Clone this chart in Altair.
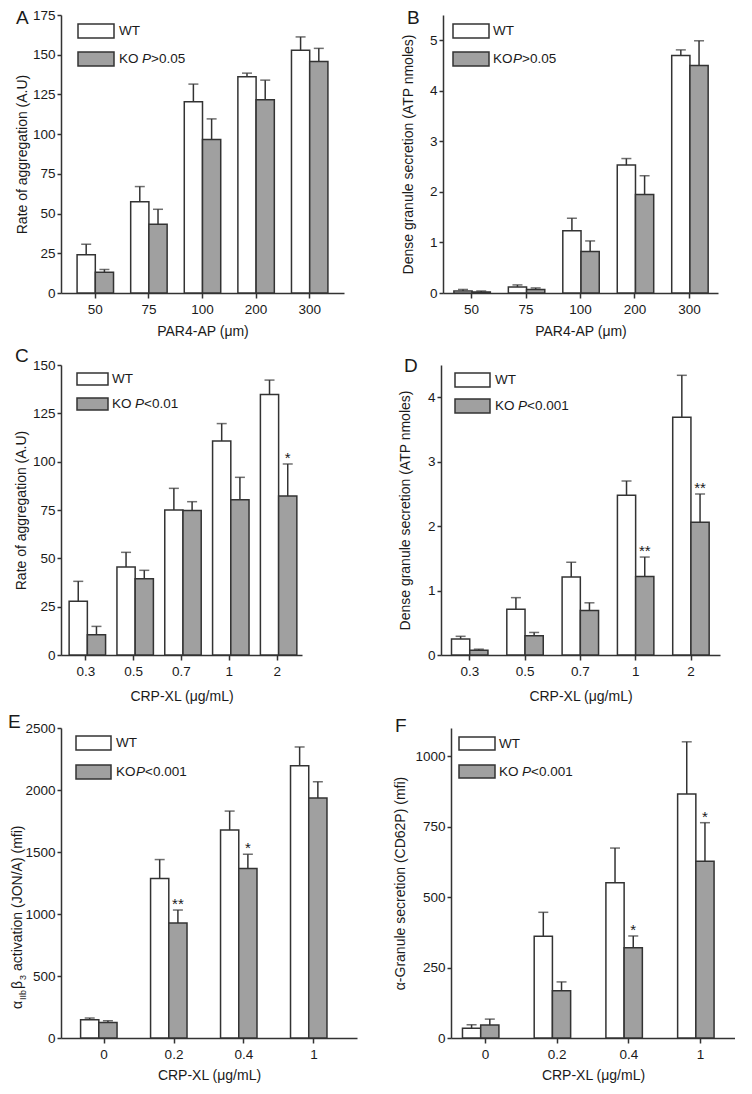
import altair as alt
import pandas as pd

FONT = "Liberation Sans"
INK = "#333333"
GRAY = "#a0a0a0"
TXT = "#1a1a1a"

# ---------------- data ----------------
# Panel A: rate of aggregation vs PAR4-AP
a_cats = ["50", "75", "100", "200", "300"]
a_wt = [24.0, 57.5, 120.4, 136.1, 152.8]
a_wt_err = [6.7, 9.5, 11.1, 2.3, 8.4]
a_ko = [13.0, 43.3, 96.6, 121.7, 145.7]
a_ko_err = [1.8, 9.4, 13.0, 12.3, 8.3]
a_ko_star = ["", "", "", "", ""]
a_yticks = [0, 25, 50, 75, 100, 125, 150, 175]

# Panel B: dense granule secretion vs PAR4-AP
b_cats = ["50", "75", "100", "200", "300"]
b_wt = [0.04, 0.12, 1.23, 2.53, 4.70]
b_wt_err = [0.03, 0.04, 0.25, 0.13, 0.11]
b_ko = [0.02, 0.07, 0.82, 1.95, 4.50]
b_ko_err = [0.02, 0.03, 0.21, 0.37, 0.49]
b_ko_star = ["", "", "", "", ""]
b_yticks = [0, 1, 2, 3, 4, 5]

# Panel C: rate of aggregation vs CRP-XL
c_cats = ["0.3", "0.5", "0.7", "1", "2"]
c_wt = [27.8, 45.5, 75.0, 110.7, 134.7]
c_wt_err = [10.3, 7.6, 11.2, 9.0, 7.5]
c_ko = [10.5, 39.5, 74.7, 80.3, 82.2]
c_ko_err = [4.3, 4.3, 4.6, 11.6, 16.6]
c_ko_star = ["", "", "", "", "*"]
c_yticks = [0, 25, 50, 75, 100, 125, 150]

# Panel D: dense granule secretion vs CRP-XL
d_cats = ["0.3", "0.5", "0.7", "1", "2"]
d_wt = [0.25, 0.71, 1.21, 2.48, 3.69]
d_wt_err = [0.04, 0.18, 0.23, 0.22, 0.65]
d_ko = [0.075, 0.30, 0.69, 1.22, 2.06]
d_ko_err = [0.015, 0.05, 0.12, 0.30, 0.44]
d_ko_star = ["", "", "", "**", "**"]
d_yticks = [0, 1, 2, 3, 4]

# Panel E: integrin activation vs CRP-XL
e_cats = ["0", "0.2", "0.4", "1"]
e_wt = [147, 1286, 1677, 2195]
e_wt_err = [14, 153, 153, 152]
e_ko = [126, 927, 1367, 1935]
e_ko_err = [13, 105, 115, 131]
e_ko_star = ["", "**", "*", ""]
e_yticks = [0, 500, 1000, 1500, 2000, 2500]

# Panel F: alpha-granule secretion vs CRP-XL
f_cats = ["0", "0.2", "0.4", "1"]
f_wt = [35, 361, 551, 866]
f_wt_err = [12, 85, 123, 185]
f_ko = [46, 168, 320, 627]
f_ko_err = [21, 31, 42, 137]
f_ko_star = ["", "", "*", "*"]
f_yticks = [0, 250, 500, 750, 1000]

groups = ["WT", "KO"]


def one(text, x, y, size=13.5, style="normal", align="left", baseline="middle",
        angle=0, dx=0, dy=0):
    return alt.Chart(pd.DataFrame({"k": [0]})).mark_text(
        text=text, font=FONT, fontSize=size, fontStyle=style, align=align,
        baseline=baseline, angle=angle, dx=dx, dy=dy, color=TXT
    ).encode(x=alt.value(x), y=alt.value(y))


def box(x1, x2, y1, y2, fill):
    return alt.Chart(pd.DataFrame({"k": [0]})).mark_rect(
        fill=fill, stroke=INK, strokeWidth=1.5
    ).encode(x=alt.value(x1), x2=alt.value(x2), y=alt.value(y1), y2=alt.value(y2))


def panel(letter, cats, wt, wt_err, ko, ko_err, ko_star, ymax, yticks, ytitle,
          xtitle, w, h, pin, pout, leg, kop, lpos, title_x=-32, xtitle_pad=9):
    n = len(cats)
    df = pd.DataFrame({
        "cat": cats * 2,
        "group": ["WT"] * n + ["KO"] * n,
        "value": wt + ko,
        "top": [v + e for v, e in zip(wt + ko, wt_err + ko_err)],
        "star": [""] * n + ko_star,
    })
    x = alt.X("cat:N", sort=cats,
              scale=alt.Scale(paddingInner=pin, paddingOuter=pout),
              axis=alt.Axis(title=xtitle, labelAngle=0, tickSize=5, labelPadding=4,
                            titlePadding=xtitle_pad))
    xo = alt.XOffset("group:N", sort=groups,
                     scale=alt.Scale(paddingInner=0, paddingOuter=0))
    common = dict(values=yticks, tickCount=len(yticks) + 2, tickSize=4, labelPadding=2,
                  labelOverlap=False, format="d")
    if ytitle:
        yaxis = alt.Axis(title=ytitle, titleX=title_x, **common)
    else:
        yaxis = alt.Axis(title=None, **common)
    y = alt.Y("value:Q", scale=alt.Scale(domain=[0, ymax], nice=False, zero=True),
              axis=yaxis)
    base = alt.Chart(df)
    bars = base.mark_bar(stroke=INK, strokeWidth=1.5).encode(
        x=x, xOffset=xo, y=y,
        fill=alt.Fill("group:N", scale=alt.Scale(domain=groups, range=["white", GRAY]),
                      legend=None))
    err = base.mark_rule(color=INK, strokeWidth=1.5).encode(
        x=x, xOffset=xo, y="value:Q", y2="top:Q")
    cap = base.mark_tick(color=INK, thickness=1.5, size=10, orient="horizontal").encode(
        x=x, xOffset=xo, y="top:Q")
    stars = base.transform_filter("datum.star != ''").mark_text(
        font=FONT, fontSize=15, baseline="alphabetic", dy=-1, color=TXT).encode(
        x=x, xOffset=xo, y="top:Q", text="star:N")

    bx1, bx2, wy, ky, bh, tx = leg
    layers = [bars, err, cap, stars,
              box(bx1, bx2, wy, wy + bh, "white"),
              box(bx1, bx2, ky, ky + bh, GRAY),
              one("WT", tx, wy + bh / 2),
              one("KO", tx, ky + bh / 2),
              one("P", tx + kop[0], ky + bh / 2, style="italic"),
              one(kop[2], tx + kop[1], ky + bh / 2),
              one(letter, lpos[0], lpos[1], size=19, baseline="top")]
    return alt.layer(*layers).properties(width=w, height=h)


par_x = "PAR4-AP (\u03bcm)"
crp_x = "CRP-XL (\u03bcg/mL)"

A = panel("A", a_cats, a_wt, a_wt_err, a_ko, a_ko_err, a_ko_star, 175, a_yticks,
          "Rate of aggregation (A.U)", par_x, 283, 278, 0.32, 0.3,
          (17, 53, 9, 37, 14, 58), (23, 32, ">0.05"), (-45, -6), title_x=-32)
B = panel("B", b_cats, b_wt, b_wt_err, b_ko, b_ko_err, b_ko_star, 5.5, b_yticks,
          "Dense granule secretion (ATP nmoles)", par_x, 275, 278, 0.35, 0.2,
          (10, 46, 9, 37, 14, 50), (20, 29, ">0.05"), (-36, -6), title_x=-28)
C = panel("C", c_cats, c_wt, c_wt_err, c_ko, c_ko_err, c_ko_star, 150, c_yticks,
          "Rate of aggregation (A.U)", crp_x, 241, 290, 0.30, 0.17,
          (16, 47, 8, 33, 12, 51), (23, 32, "<0.01"), (-46, -18), title_x=-33,
          xtitle_pad=12)
D = panel("D", d_cats, d_wt, d_wt_err, d_ko, d_ko_err, d_ko_star, 4.5, d_yticks,
          "Dense granule secretion (ATP nmoles)", crp_x, 279, 290, 0.335, 0.19,
          (14, 49, 8, 34, 14, 54), (23, 32, "<0.001"), (-37, -8), title_x=-29,
          xtitle_pad=12)

# Panel E: y title with subscripts built from text pieces (rotated)
e_title_x, e_title_y = -43, 281
E_core = panel("E", e_cats, e_wt, e_wt_err, e_ko, e_ko_err, e_ko_star, 2500, e_yticks,
               None, crp_x, 296, 310, 0.33, 0.28,
               (15, 50, 8, 37, 14, 55), (20, 29, "<0.001"), (-53, -15.5), xtitle_pad=8)
e_title = [
    one("\u03b1", e_title_x, e_title_y, size=14, angle=270, dx=0),
    one("IIb", e_title_x, e_title_y, size=9, angle=270, dx=9, dy=5),
    one("\u03b2", e_title_x, e_title_y, size=14, angle=270, dx=20),
    one("3", e_title_x, e_title_y, size=9, angle=270, dx=29, dy=5),
    one("activation (JON/A) (mfi)", e_title_x, e_title_y, size=14, angle=270, dx=38),
]
E = alt.layer(E_core, *e_title)

F = panel("F", f_cats, f_wt, f_wt_err, f_ko, f_ko_err, f_ko_star, 1100, f_yticks,
          "\u03b1-Granule secretion (CD62P) (mfi)", crp_x, 284, 310, 0.36, 0.16,
          (8, 44, 9, 37, 13, 48), (23, 32, "<0.001"), (-56, -11), title_x=-44,
          xtitle_pad=8)

chart = alt.vconcat(
    alt.hconcat(A, B, spacing=56),
    alt.hconcat(C, D, spacing=96),
    alt.hconcat(E, F, spacing=36),
    spacing=8,
).properties(padding=0, background="white").configure_axis(
    domainColor=INK, domainWidth=1.5, tickColor=INK, tickWidth=1.5,
    labelFont=FONT, labelFontSize=13.5, labelColor=TXT,
    titleFont=FONT, titleFontSize=14, titleFontWeight="normal", titleColor=TXT,
    grid=False,
).configure_view(stroke=None)

chart.save("out.html", embed_options={"renderer": "svg", "actions": False})
